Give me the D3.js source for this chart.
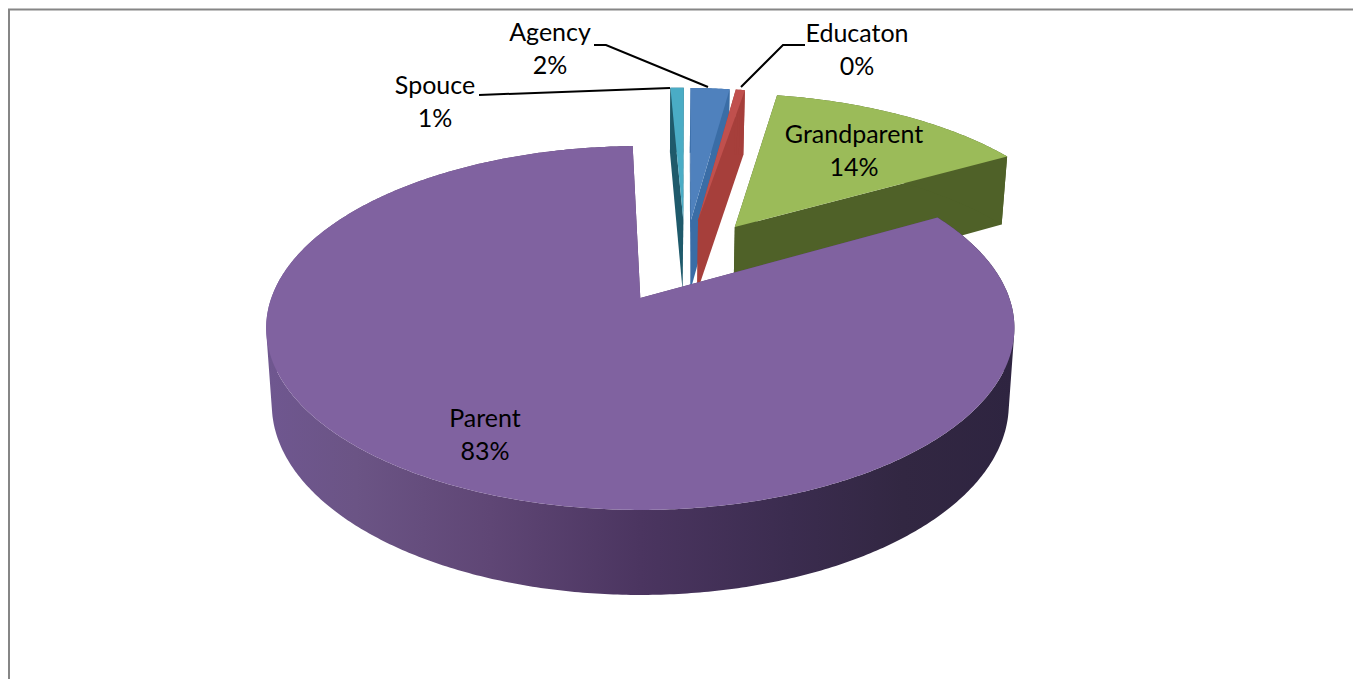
<!DOCTYPE html>
<html>
<head>
<meta charset="utf-8">
<script src="https://cdn.jsdelivr.net/npm/d3@7"></script>
<style>
  html, body { margin: 0; padding: 0; background: #fff; overflow: hidden; }
  text { font-family: Lato, "Open Sans", sans-serif; fill: #000; }
</style>
</head>
<body>
<div id="chart"></div>
<script>
// chart values
var categories = ["Spouce", "Agency", "Educaton", "Grandparent", "Parent"];
var shares = [0.72, 2.1, 0.49, 13.9, 82.79];

// styles, one per category
var topColors = ["#4aacc5", "#4f81bd", "#c0504d", "#9bbb59", "#8062a0"];
var wallColors = ["#1f5a6b", "#3a6da6", "#a63f3b", "#4f6128", "#5a4070"];

// label and leader line layout
var labelPos = [[435, 94], [550, 41], [857, 42], [854, 143], [485, 427]];
var leaders = [
  [[479, 95], [670, 88]],
  [[594, 45], [606, 45], [708, 87]],
  [[805, 45], [783, 45], [741, 87]]
];

var width = 1353, height = 679;
var startDeg = -1.4;
var explode = 0.255;           // how far each slice leaves the pie centre
var pieCentre = [0.124, 0.222]; // pie centre, measured from the Parent slice apex

// perspective of the pie plane
var apex = [641, 298], radiusX = 369, radiusY = 177, tilt = 0.165;

var svg = d3.select("#chart").append("svg")
  .attr("width", width)
  .attr("height", height);

var defs = svg.append("defs");
var grad = defs.append("linearGradient")
  .attr("id", "parentWall")
  .attr("gradientUnits", "userSpaceOnUse")
  .attr("x1", 266).attr("x2", 1015).attr("y1", 0).attr("y2", 0);
[[0, "#6f5790"], [0.12, "#6b5485"], [0.3, "#5f4675"], [0.5, "#4b3560"],
 [0.7, "#3b2c4f"], [0.85, "#322742"], [1, "#2e2440"]].forEach(function(s) {
  grad.append("stop").attr("offset", s[0]).attr("stop-color", s[1]);
});

svg.append("rect")
  .attr("x", 9).attr("y", 9.5)
  .attr("width", width).attr("height", height)
  .attr("fill", "none")
  .attr("stroke", "#868686")
  .attr("stroke-width", 2);

// plane point (u right, v away) to screen, on the top face
var topPoint = function(u, v) {
  var w = 1 + tilt * v;
  return [apex[0] + radiusX * u / w, apex[1] - radiusY * v / w];
};

// same point on the bottom face
var bottomPoint = function(u, v) {
  var p = topPoint(u, v);
  return [apex[0] + (p[0] - apex[0]) * 0.985, 223 + (p[1] - 155) * 1.048];
};

var pie = d3.pie().sort(null)
  .value(function(d) { return d; })
  .startAngle(startDeg * Math.PI / 180)
  .endAngle((startDeg + 360) * Math.PI / 180);

var slices = pie(shares).map(function(d, i) {
  var mid = (d.startAngle + d.endAngle) / 2;
  var o = [pieCentre[0] + explode * Math.sin(mid), pieCentre[1] + explode * Math.cos(mid)];
  var n = Math.max(2, Math.ceil((d.endAngle - d.startAngle) / 0.01));
  var rim = d3.range(n + 1).map(function(j) {
    var a = d.startAngle + (d.endAngle - d.startAngle) * j / n;
    return [o[0] + Math.sin(a), o[1] + Math.cos(a)];
  });
  return { i: i, origin: o, rim: rim };
});

var outline = d3.line();
var project = function(fn) {
  return function(q) { return fn(q[0], q[1]); };
};

var drawSlice = function(s) {
  var g = svg.append("g").attr("class", "slice");
  var o = s.origin, rim = s.rim, last = rim.length - 1;
  var wallFill = s.i === 4 ? "url(#parentWall)" : wallColors[s.i];

  // the two cut faces
  [rim[0], rim[last]].forEach(function(q) {
    var quad = [topPoint(o[0], o[1]), topPoint(q[0], q[1]), bottomPoint(q[0], q[1]), bottomPoint(o[0], o[1])];
    g.append("path").attr("d", outline(quad) + "Z")
      .attr("fill", wallColors[s.i]);
  });

  // outer wall: all rim strips in one path, wound the same way so they fill solid
  var strips = d3.pairs(rim).map(function(p) {
    var quad = [topPoint(p[0][0], p[0][1]), topPoint(p[1][0], p[1][1]),
      bottomPoint(p[1][0], p[1][1]), bottomPoint(p[0][0], p[0][1])];
    if (d3.polygonArea(quad) < 0) quad.reverse();
    return outline(quad) + "Z";
  });
  g.append("path").attr("d", strips.join("")).attr("fill", wallFill);

  // top face
  var face = [topPoint(o[0], o[1])].concat(rim.map(project(topPoint)));
  g.append("path").attr("d", outline(face) + "Z").attr("fill", topColors[s.i]);
};

slices.forEach(drawSlice);

svg.selectAll("path.leader")
  .data(leaders)
  .enter().append("path")
  .attr("class", "leader")
  .attr("d", function(d) { return outline(d); })
  .attr("fill", "none")
  .attr("stroke", "#000")
  .attr("stroke-width", 2);

var pct = d3.format(".0%");
var labels = svg.selectAll("g.label")
  .data(categories)
  .enter().append("g")
  .attr("class", "label")
  .attr("transform", function(d, i) { return "translate(" + labelPos[i] + ")"; });

labels.append("text")
  .attr("text-anchor", "middle")
  .attr("font-size", 25)
  .text(function(d) { return d; });

labels.append("text")
  .attr("text-anchor", "middle")
  .attr("font-size", 25)
  .attr("y", 33)
  .text(function(d, i) { return pct(shares[i] / d3.sum(shares)); });
</script>
</body>
</html>
